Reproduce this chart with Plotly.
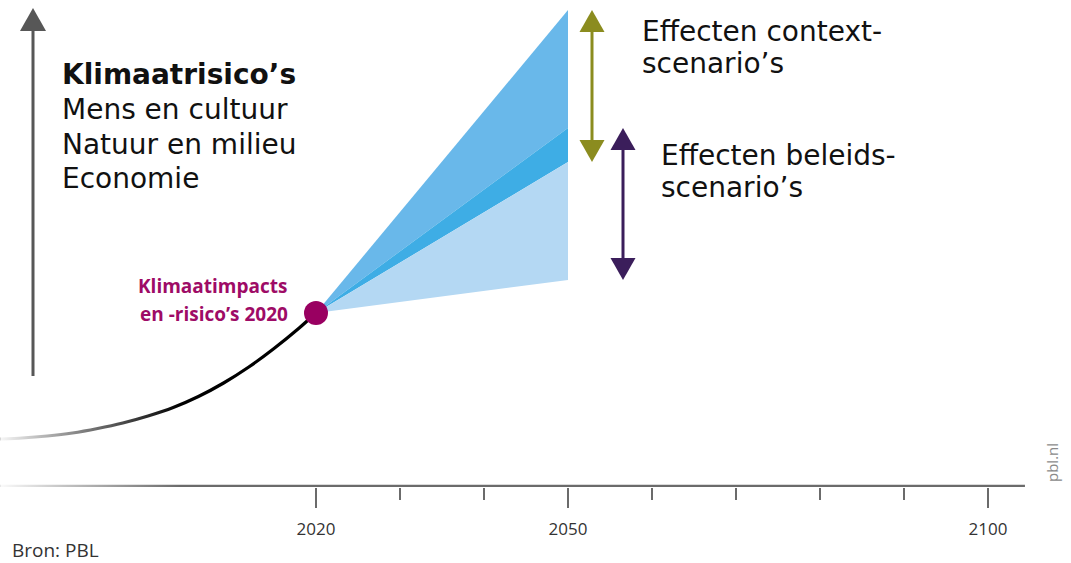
import plotly.graph_objects as go

# ---------------- data ----------------
# historical climate impact curve (arbitrary risk units)
hist_years = [1982.4, 1985, 1988, 1991, 1994, 1997, 2000, 2003, 2006, 2009, 2012, 2015, 2018, 2020]
hist_values = [47, 48, 50, 53, 57.5, 63, 70, 78.5, 89.5, 103, 119, 137.5, 158, 173]

# reference point 2020
point_year = 2020
point_value = 173
point_label = ["Klimaatimpacts", "en -risico’s 2020"]

# scenario fan at 2050
fan_end_year = 2050
context_high = 476   # top of context-scenario range
context_low = 324    # bottom of context-scenario range
policy_high = 358    # top of policy-scenario range
policy_low = 206     # bottom of policy-scenario range

# axis
axis_start, axis_end = 1982.4, 2104.4
major_ticks = [2020, 2050, 2100]
major_labels = ["2020", "2050", "2100"]
minor_ticks = [2030, 2040, 2060, 2070, 2080, 2090]

# texts
title_bold = "Klimaatrisico’s"
title_lines = ["Mens en cultuur", "Natuur en milieu", "Economie"]
context_text = ["Effecten context-", "scenario’s"]
policy_text = ["Effecten beleids-", "scenario’s"]
source_text = "Bron: PBL"
credit_text = "pbl.nl"

# ---------------- layout constants ----------------
W, H = 1071, 563
PX_PER_YEAR = 8.4
X0_PX, X0_YEAR = 316, 2020
PLOT_H = 487
Y_TOP = 486


def yr(px):
    return X0_YEAR + (px - X0_PX) / PX_PER_YEAR


def val(py):
    return Y_TOP - py


fig = go.Figure()

AXIS_COL = "#6b6b6b"

# ---- time axis line ----
fig.add_trace(go.Scatter(x=[axis_start, axis_end], y=[0, 0], mode="lines",
                         line=dict(color=AXIS_COL, width=2.5), hoverinfo="skip"))

# ---- historical curve ----
fig.add_trace(go.Scatter(x=hist_years, y=hist_values, mode="lines",
                         line=dict(color="#000000", width=3.2, shape="spline", smoothing=0.6),
                         hoverinfo="skip"))

# ---- white fade over the left part (axis line and curve fade in) ----
fade_end = yr(180)
fig.add_trace(go.Scatter(x=[axis_start, fade_end, fade_end, axis_start, axis_start],
                         y=[-1, -1, 110, 110, -1], mode="lines", fill="toself",
                         line=dict(width=0, color="rgba(255,255,255,0)"),
                         fillgradient=dict(type="horizontal",
                                           colorscale=[[0, "rgba(255,255,255,0.97)"],
                                                       [0.35, "rgba(255,255,255,0.6)"],
                                                       [1, "rgba(255,255,255,0)"]]),
                         hoverinfo="skip"))

# ---- scenario fan ----
fan_parts = [
    (context_high, policy_high, "#69b8ea"),
    (policy_high, context_low, "#3eade5"),
    (context_low, policy_low, "#b4d8f3"),
]
for hi, lo, col in fan_parts:
    fig.add_trace(go.Scatter(x=[point_year, fan_end_year, fan_end_year, point_year],
                             y=[point_value, hi, lo, point_value],
                             mode="lines", fill="toself", fillcolor=col,
                             line=dict(width=0, color=col), hoverinfo="skip"))

# ---- reference point ----
fig.add_trace(go.Scatter(x=[point_year], y=[point_value], mode="markers",
                         marker=dict(size=24, color="#990061"), hoverinfo="skip"))


# ---- arrows ----
def arrow(x, y_from, y_to, color, width, head_len, head_half, both=False):
    hw = head_half / PX_PER_YEAR
    up = 1 if y_to > y_from else -1
    ys = y_from + (up * head_len if both else 0)
    ye = y_to - up * head_len
    fig.add_trace(go.Scatter(x=[x, x], y=[ys, ye], mode="lines",
                             line=dict(color=color, width=width), hoverinfo="skip"))
    tips = [(y_to, -up)]
    if both:
        tips.append((y_from, up))
    for tip, d in tips:
        base = tip + d * head_len
        fig.add_trace(go.Scatter(x=[x - hw, x + hw, x, x - hw], y=[base, base, tip, base],
                                 mode="lines", fill="toself", fillcolor=color,
                                 line=dict(width=0, color=color), hoverinfo="skip"))


arrow(yr(33), val(376), val(8), "#575757", 3, 23, 13)
arrow(yr(592), context_low, context_high, "#8b8c1f", 3, 22, 12.5, both=True)
arrow(yr(623), policy_low, policy_high, "#3b1e5b", 3, 22, 12.5, both=True)

# ---------------- text ----------------
ann = []
MAIN_FONT = "DejaVu Sans"


def txt(px, py, text, size, color="#111111", family=MAIN_FONT, xanchor="left", angle=0):
    ann.append(dict(x=px / W, xref="paper", y=(PLOT_H - py) / PLOT_H, yref="paper",
                    text=text, showarrow=False,
                    xanchor=xanchor, yanchor="middle", textangle=angle,
                    font=dict(family=family, size=size, color=color)))


txt(60, 74, "<b>" + title_bold + "</b>", 28)
for i, line in enumerate(title_lines):
    txt(60, 109 + 35 * i, line, 28)
txt(640, 32, context_text[0], 28)
txt(640, 64, context_text[1], 28)
txt(659, 155, policy_text[0], 28)
txt(659, 187, policy_text[1], 28)

txt(290, 286, "<b>" + point_label[0] + "</b>", 19, color="#9e0b66", family="Open Sans", xanchor="right")
txt(290, 314, "<b>" + point_label[1] + "</b>", 19, color="#9e0b66", family="Open Sans", xanchor="right")

txt(10, 550, source_text, 19, color="#333333", family="Open Sans")
txt(1052, 463, credit_text, 15, color="#8a8a8a", family="Open Sans", xanchor="center", angle=-90)

fig.update_layout(
    width=W, height=H,
    margin=dict(l=0, r=0, t=0, b=H - PLOT_H, pad=0),
    paper_bgcolor="white", plot_bgcolor="white",
    showlegend=False,
    annotations=ann,
    xaxis=dict(range=[yr(0), yr(W)], showgrid=False, zeroline=False, showline=False,
               ticks="outside", tickvals=major_ticks, ticktext=major_labels,
               ticklen=20, tickwidth=2, tickcolor=AXIS_COL,
               tickfont=dict(family="Open Sans", size=17, color="#333333"),
               ticklabelstandoff=7,
               minor=dict(tickvals=minor_ticks, ticks="outside", ticklen=12,
                          tickwidth=1.5, tickcolor=AXIS_COL, showgrid=False),
               fixedrange=True),
    yaxis=dict(range=[-1, Y_TOP], visible=False, fixedrange=True),
)

fig.write_html("out.html", config={"displayModeBar": False},
               post_script="document.body.style.margin='0';document.body.style.overflow='hidden';")
